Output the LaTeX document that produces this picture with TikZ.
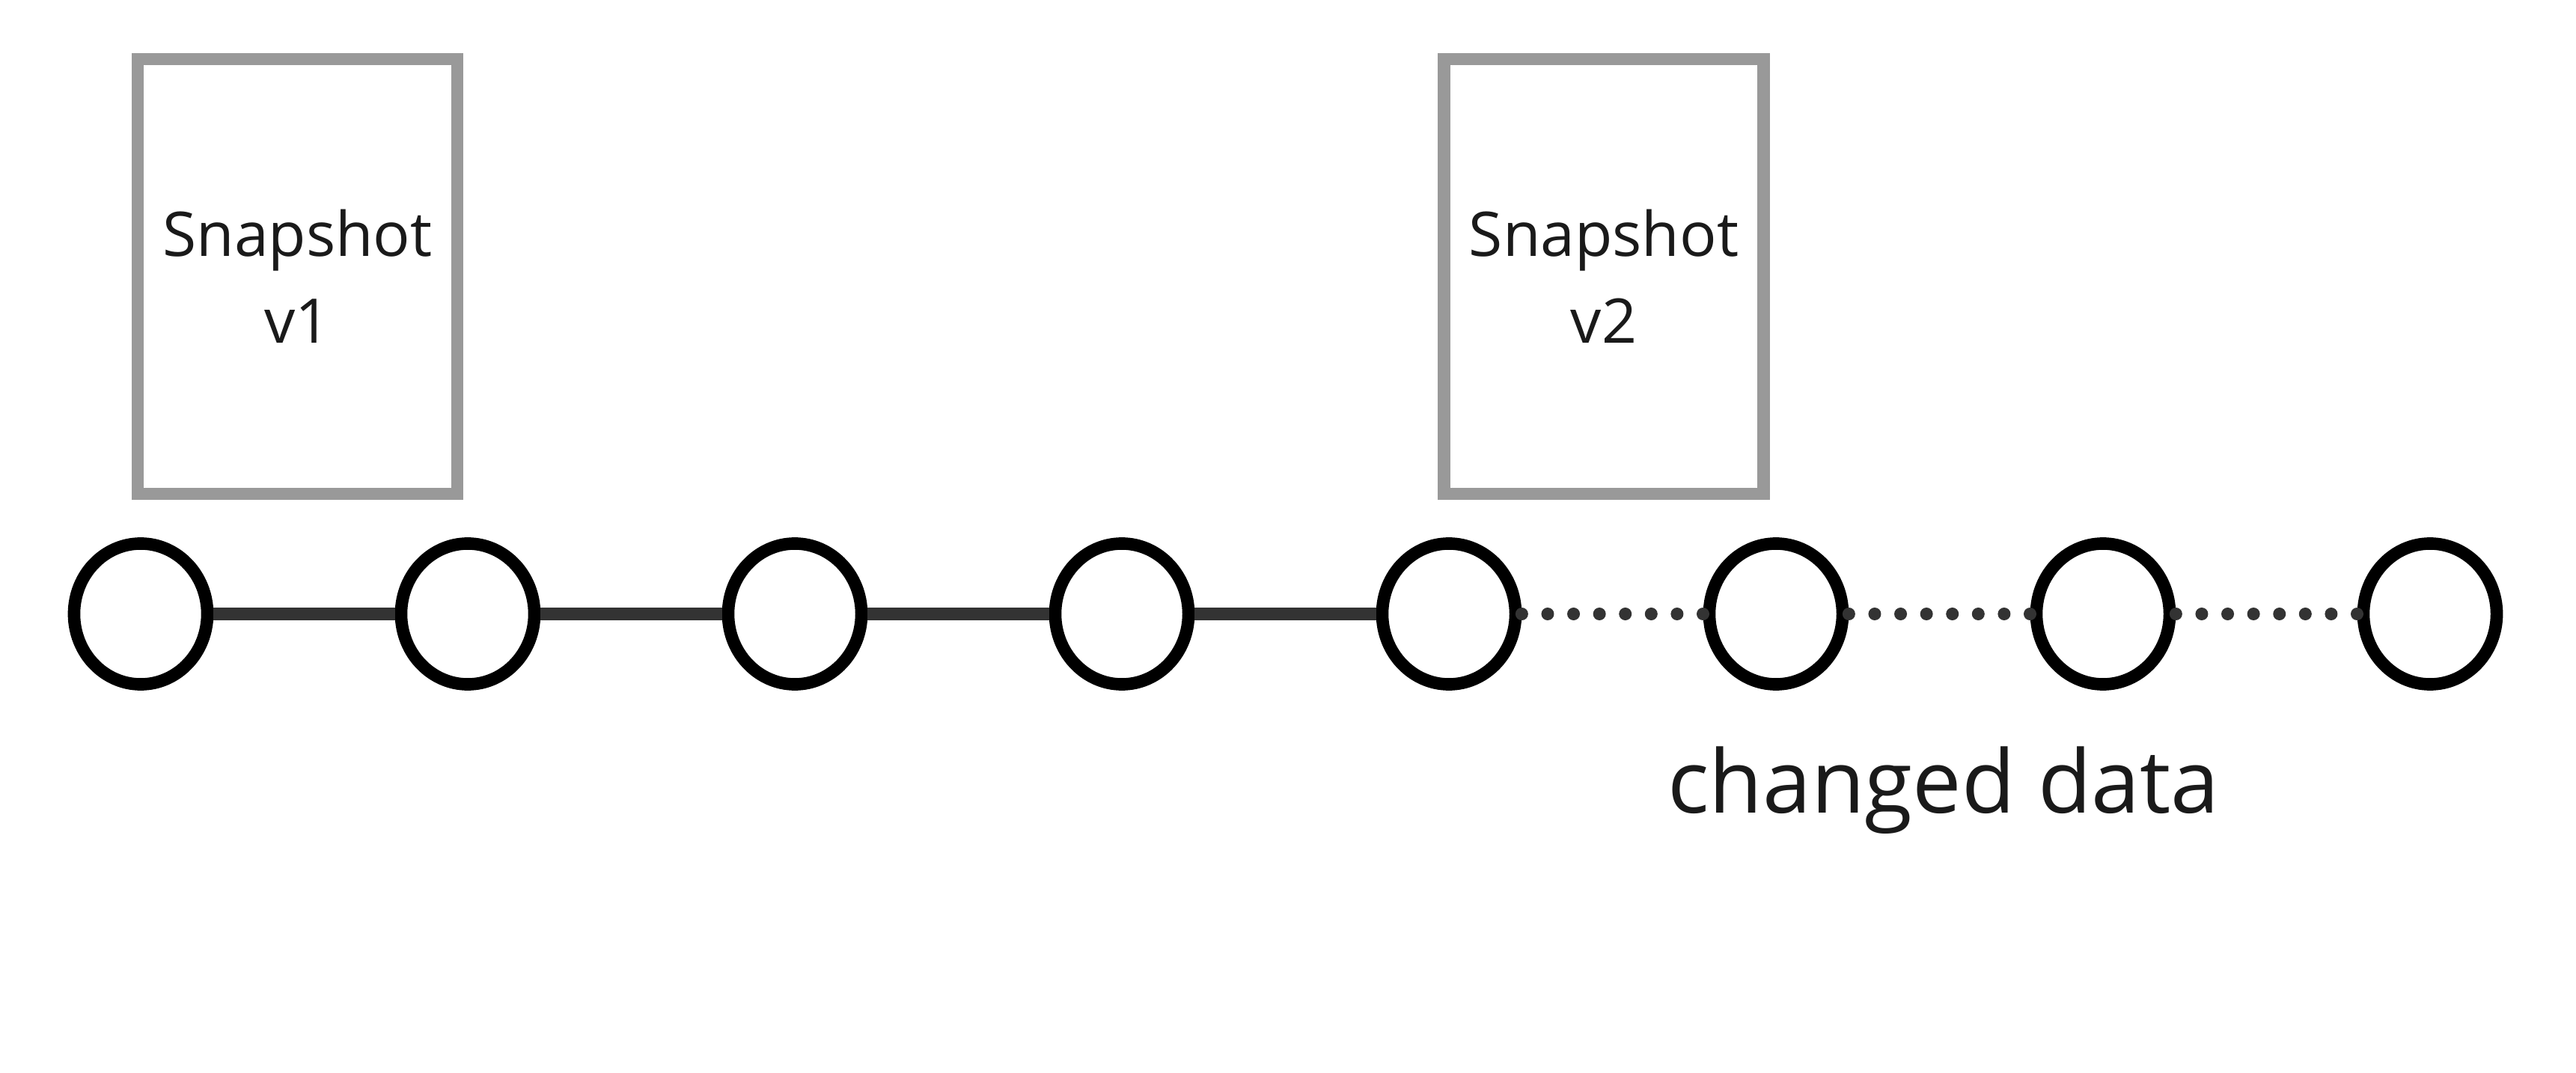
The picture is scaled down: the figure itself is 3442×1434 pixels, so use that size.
\documentclass[tikz,border=0pt]{standalone}
\usepackage{fontspec}
\setmainfont{Open Sans}
\usetikzlibrary{shapes.geometric}
\definecolor{boxgray}{HTML}{999999}
\definecolor{linegray}{HTML}{333333}
\definecolor{txt}{HTML}{1A1A1A}
\tikzset{
  dot/.style={ellipse, draw=black, fill=white, line width=0.166cm, inner sep=0pt,
    minimum width=1.78cm, minimum height=1.88cm},
  snapbox/.style={rectangle, draw=boxgray, fill=white, line width=0.166cm, inner sep=0pt,
    minimum width=4.27cm, minimum height=5.81cm, align=center, text=txt,
    font=\fontsize{23.4}{33}\selectfont},
  solidlink/.style={draw=linegray, line width=0.166cm},
  dotlink/.style={draw=linegray, line width=0.17cm, line cap=round, dash pattern=on 0pt off 0.3457cm},
  bigtext/.style={text=txt, inner sep=0pt, font=\fontsize{33.2}{45}\selectfont}
}
\begin{document}
\begin{tikzpicture}[x=0.01cm, y=-0.01cm]
\useasboundingbox (0,0) rectangle (3442,1434);
\fill[white] (0,0) rectangle (3442,1434);
\node[snapbox] (s1) at (397.5,369.5) {Snapshot\\v1};
\node[snapbox] (s2) at (2143,369.5) {Snapshot\\v2};
\foreach \i/\x in {1/188,2/625,3/1062,4/1499,5/1936,6/2373,7/2810,8/3247}
  \node[dot] (c\i) at (\x,820.5) {};
\draw[solidlink] (c1.east) -- (c2.west);
\draw[solidlink] (c2.east) -- (c3.west);
\draw[solidlink] (c3.east) -- (c4.west);
\draw[solidlink] (c4.east) -- (c5.west);
\draw[dotlink] (c5.east) -- (c6.west);
\draw[dotlink] (c6.east) -- (c7.west);
\draw[dotlink] (c7.east) -- (c8.west);
\node[bigtext, anchor=base] (lbl) at (2597,1086) {changed data};
\end{tikzpicture}
\end{document}
